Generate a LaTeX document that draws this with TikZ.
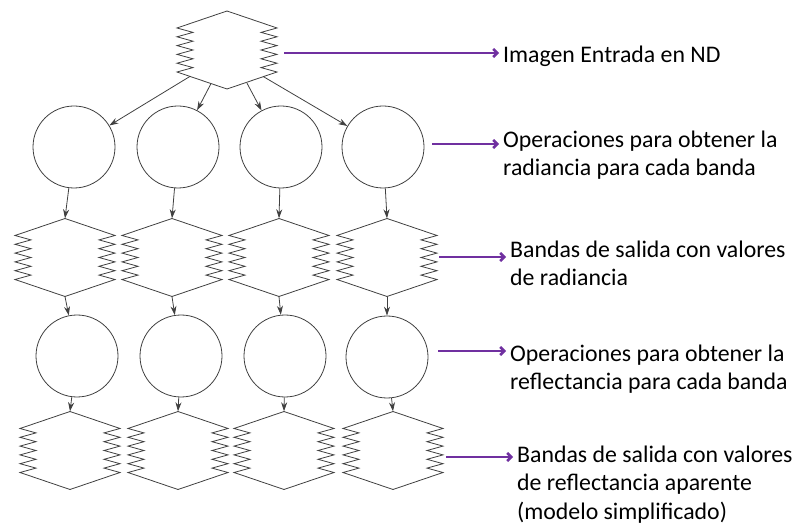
\documentclass[tikz,border=0pt]{standalone}
\usepackage{fontspec}
\setmainfont{Carlito}
\usetikzlibrary{arrows.meta,calc}
\definecolor{lineg}{HTML}{404040}
\definecolor{purp}{HTML}{7030A0}
\tikzset{
  hexnode/.style={rectangle,minimum width=100pt,minimum height=78pt,inner sep=0pt},
  hexline/.style={draw=lineg,line width=0.8pt,line join=miter},
  opcircle/.style={circle,draw=lineg,line width=0.8pt,minimum size=82pt,inner sep=0pt},
  flow/.style={draw=lineg,line width=0.8pt,-{Stealth[length=9pt,width=6pt]}},
  callout/.style={draw=purp,line width=2.5pt,-{Straight Barb[length=4pt,width=8pt]}},
  desc/.style={anchor=base west,inner sep=0pt,align=left,font=\fontsize{23.8}{28.4}\selectfont}
}
\newcommand\zighex[3]{%
  \node[hexnode] (#1) at (#2,#3) {};
  \draw[hexline,shift={(#2,#3)}] (0,-39) -- (50,-22) -- (34,-17.6) -- (50,-13.2) -- (34,-8.8) -- (50,-4.4) -- (34,0) -- (50,4.4) -- (34,8.8) -- (50,13.2) -- (34,17.6) -- (50,22) -- (0,39) -- (-50,22) -- (-34,17.6) -- (-50,13.2) -- (-34,8.8) -- (-50,4.4) -- (-34,0) -- (-50,-4.4) -- (-34,-8.8) -- (-50,-13.2) -- (-34,-17.6) -- (-50,-22) -- cycle;
}
\begin{document}
\begin{tikzpicture}[x=1pt,y=-1pt]
\useasboundingbox (0,0) rectangle (801,529);
% top image
\zighex{T}{227}{50}
% row 1 circles
\node[opcircle] (c1) at (74,147) {};
\node[opcircle] (c2) at (178,147) {};
\node[opcircle] (c3) at (281,147) {};
\node[opcircle] (c4) at (383,147) {};
% row 2 hexes
\zighex{h1}{65}{257.5}
\zighex{h2}{172}{257.5}
\zighex{h3}{279}{257.5}
\zighex{h4}{387}{257.5}
% row 2 circles
\node[opcircle] (d1) at (77,356) {};
\node[opcircle] (d2) at (181,356) {};
\node[opcircle] (d3) at (285,356) {};
\node[opcircle] (d4) at (387,357) {};
% row 3 hexes
\zighex{g1}{70}{450.5}
\zighex{g2}{178}{450.5}
\zighex{g3}{284}{450.5}
\zighex{g4}{393}{450.5}
% start points on the top hexagon
\coordinate (s1) at (190,76.4);
\coordinate (s2) at (211,83.6);
\coordinate (s3) at (247,83.2);
\coordinate (s4) at (263,76.4);
\draw[flow] (s1) -- (c1);
\draw[flow] (s2) -- (c2);
\draw[flow] (s3) -- (c3);
\draw[flow] (s4) -- (c4);
\foreach \i in {1,2,3,4}{
  \draw[flow] (c\i) -- (h\i.north);
  \draw[flow] (h\i.south) -- (d\i);
  \draw[flow] (d\i) -- (g\i.north);
}
% descriptions (anchored at the baseline of their last line)
\node[desc] (t1) at (503,63) {Imagen Entrada en ND};
\node[desc] (t2) at (503,176) {Operaciones para obtener la\\radiancia para cada banda};
\node[desc] (t3) at (510,286) {Bandas de salida con valores\\de radiancia};
\node[desc] (t4) at (510,390) {Operaciones para obtener la\\reflectancia para cada banda};
\node[desc] (t5) at (517,519) {Bandas de salida con valores\\de reflectancia aparente\\(modelo simplificado)};
\coordinate (p1) at (284,53);
\coordinate (p2) at (432,144);
\coordinate (p3) at (439,257);
\coordinate (p4) at (438,351);
\coordinate (p5) at (446,457);
\draw[callout] (p1) -- ([xshift=-4pt]p1 -| t1.west);
\draw[callout] (p2) -- ([xshift=-4pt]p2 -| t2.west);
\draw[callout] (p3) -- ([xshift=-4pt]p3 -| t3.west);
\draw[callout] (p4) -- ([xshift=-4pt]p4 -| t4.west);
\draw[callout] (p5) -- ([xshift=-4pt]p5 -| t5.west);
\end{tikzpicture}
\end{document}
